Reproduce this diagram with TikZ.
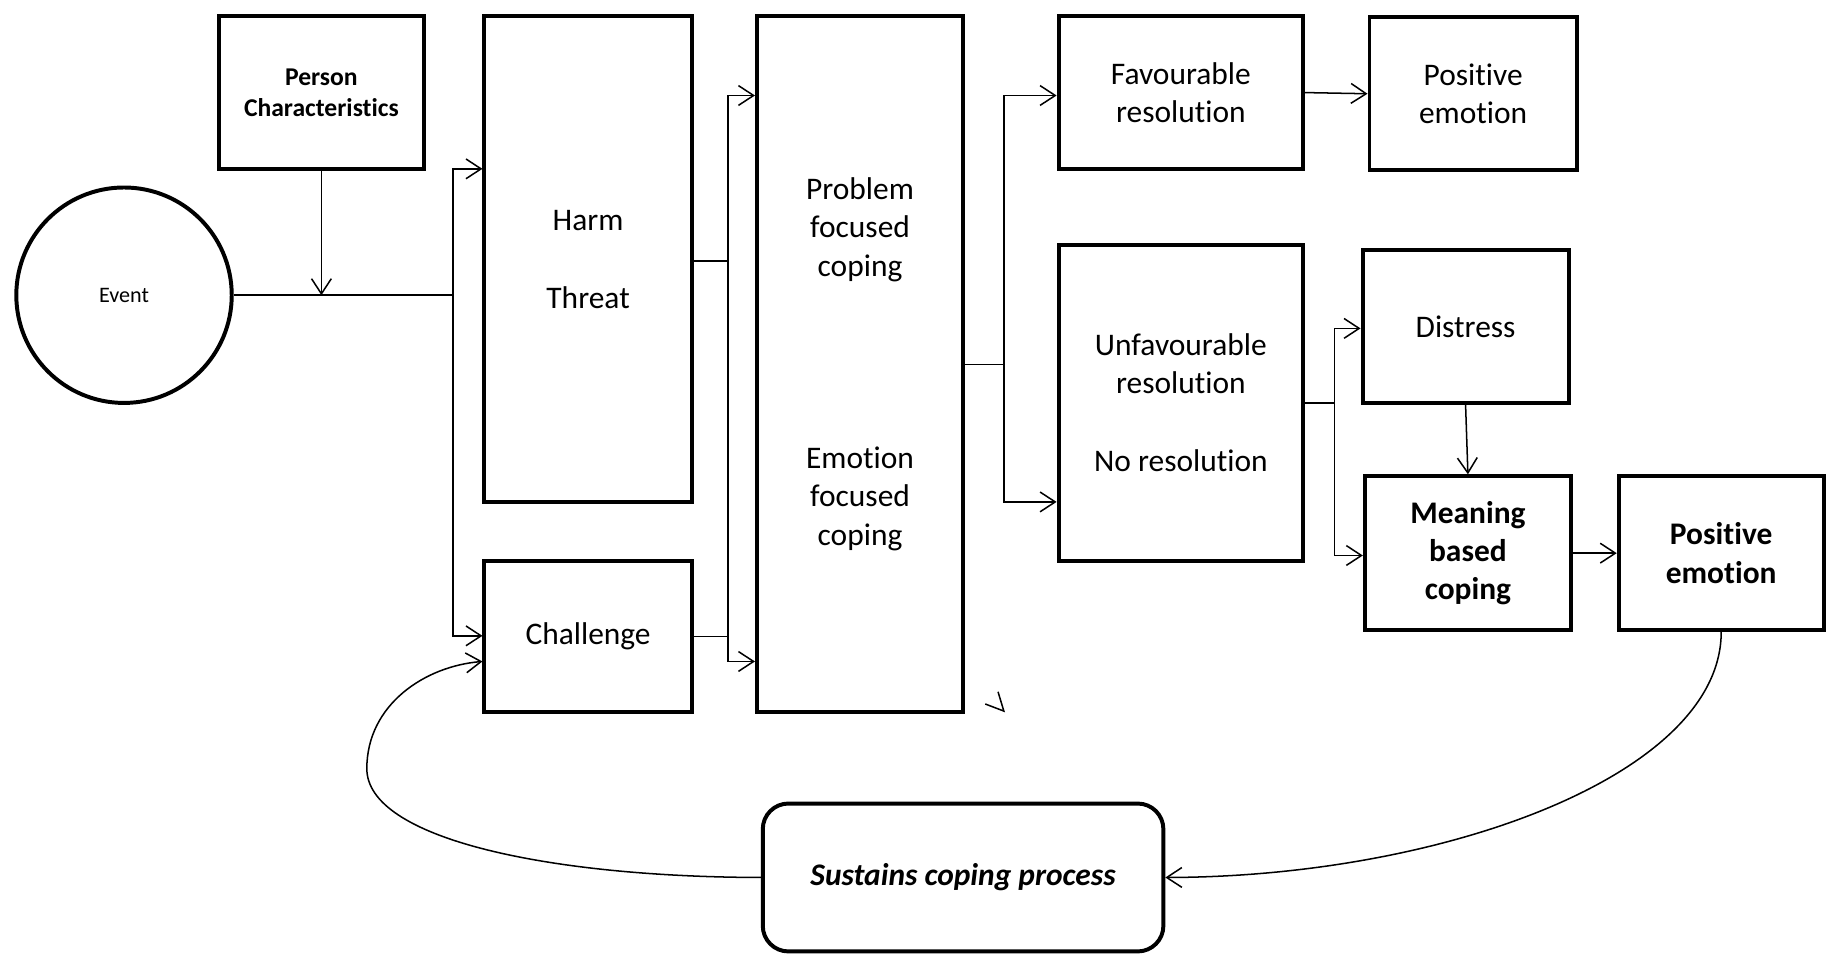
\documentclass[tikz,border=0pt]{standalone}
\usepackage{fontspec}
\setmainfont{Carlito}[Ligatures={NoCommon}]
\usetikzlibrary{arrows.meta}
\begin{document}
\begin{tikzpicture}[x=1pt,y=-1pt,
  box/.style={draw, line width=3.4pt, inner sep=0pt, align=center, font=\fontsize{27}{33}\selectfont},
  conn/.style={line width=1.3pt},
  arr/.style={conn, -{Straight Barb[length=13pt,width=17pt]}},
]
\useasboundingbox (0,0) rectangle (1568,824);
\node[draw, circle, line width=3.4pt, minimum size=185pt, inner sep=0pt, font=\fontsize{19}{23}\selectfont] (ev) at (106.5,253.5) {Event};
\node[box, minimum width=176pt, minimum height=131pt, font=\bfseries\fontsize{22}{27}\selectfont] (pc) at (276,79.5) {Person\\Characteristics};
\node[box, minimum width=178pt, minimum height=417pt] (harm) at (505,222.5) {Harm\\[34pt]Threat};
\node[box, minimum width=178pt, minimum height=129pt] (chal) at (505,546.5) {Challenge};
\node[box, minimum width=177pt, minimum height=597pt] (pfc) at (738.5,312.5) {Problem\\focused\\coping\\[132pt]Emotion\\focused\\coping};
\node[box, minimum width=210pt, minimum height=131pt] (fav) at (1014,79.5) {Favourable\\resolution};
\node[box, minimum width=178pt, minimum height=131pt] (pos1) at (1265,80.5) {Positive\\emotion};
\node[box, minimum width=210pt, minimum height=272pt] (unf) at (1014,346) {Unfavourable\\resolution\\[34pt]No resolution};
\node[box, minimum width=177pt, minimum height=131pt] (dis) at (1258.5,280.5) {Distress};
\node[box, minimum width=177pt, minimum height=132pt, font=\bfseries\fontsize{27}{33}\selectfont] (mean) at (1260.5,475) {Meaning\\based\\coping};
\node[box, minimum width=176pt, minimum height=132pt, font=\bfseries\fontsize{27}{33}\selectfont] (pos2) at (1478,475) {Positive\\emotion};
\node[box, rounded corners=22pt, minimum width=344pt, minimum height=127pt, font=\bfseries\itshape\fontsize{27}{33}\selectfont] (sus) at (827,753.5) {Sustains coping process};

% event to appraisal
\coordinate (j1) at (pc.south |- ev.east);
\coordinate (s1) at (389,253.5);
\coordinate (s1a) at (389,145);
\coordinate (s1b) at (389,546);
\draw[conn] (ev.east) -- (s1);
\draw[arr] (pc.south) -- (j1);
\draw[arr] (s1) -- (s1a) -- (harm.west |- s1a);
\draw[arr] (s1) -- (s1b) -- (chal.west |- s1b);

% appraisal to coping
\coordinate (s2) at (625,224);
\coordinate (s2a) at (625,82);
\coordinate (s2b) at (625,568);
\coordinate (s2c) at (625,546.5);
\draw[conn] (harm.east |- s2) -- (s2);
\draw[arr] (s2) -- (s2a) -- (pfc.west |- s2a);
\draw[arr] (s2) -- (s2b) -- (pfc.west |- s2b);
\draw[conn] (chal.east) -- (s2c);

% coping to resolution
\coordinate (s3) at (862,313);
\coordinate (s3a) at (862,82);
\coordinate (s3b) at (862,431);
\draw[conn] (pfc.east |- s3) -- (s3);
\draw[arr] (s3) -- (s3a) -- (fav.west |- s3a);
\draw[arr] (s3) -- (s3b) -- (unf.west |- s3b);
\draw[arr] (fav.east) -- (pos1.west);

% unfavourable branch
\coordinate (s4) at (1146,346);
\coordinate (s4a) at (1146,282);
\coordinate (s4b) at (1146,477);
\draw[conn] (unf.east |- s4) -- (s4);
\draw[arr] (s4) -- (s4a) -- (dis.west |- s4a);
\draw[arr] (s4) -- (s4b) -- (mean.west |- s4b);
\draw[arr] (dis.south) -- (mean.north);
\draw[arr] (mean.east) -- (pos2.west);

% feedback loop
\coordinate (c1) at (416,568);
\draw[arr] (pos2.south) .. controls (1478,665) and (1240,753) .. (sus.east);
\draw[arr] (sus.west) .. controls (470,753) and (315,720) .. (315,660) .. controls (315,605) and (365,572) .. (chal.west |- c1);

% stray mark
\draw[conn] (857,594) -- (862,610.6) -- (846,604.5);
\end{tikzpicture}
\end{document}
